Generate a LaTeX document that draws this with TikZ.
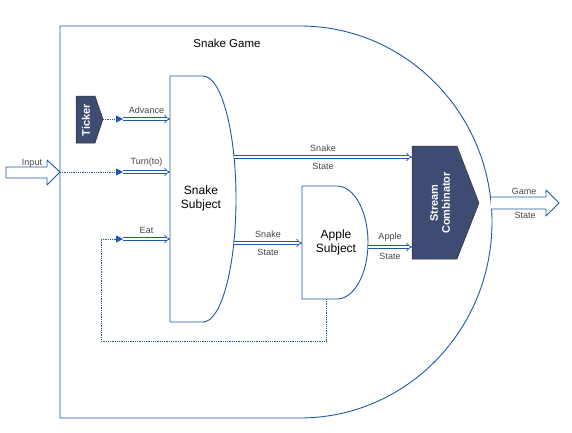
\documentclass[tikz,border=0pt]{standalone}
\usepackage{fontspec}
\setmainfont{Liberation Sans}
\usetikzlibrary{arrows.meta}

\definecolor{lineblue}{RGB}{30,88,168}
\definecolor{boxnavy}{RGB}{62,75,115}
\definecolor{labelgray}{RGB}{70,70,70}

\tikzset{
  shell/.style={draw=lineblue, line width=0.9pt, fill=white},
  darkbox/.style={draw=black!80, line width=0.5pt, fill=boxnavy},
  darktext/.style={text=white, font=\bfseries\fontsize{11}{12}\selectfont, rotate=90, align=center},
  subj/.style={font=\fontsize{12}{14}\selectfont, align=center},
  lbl/.style={text=labelgray, font=\fontsize{9}{10}\selectfont},
  flow/.style={lineblue, line width=0.75pt, double=white, double distance=2.2pt, -{Implies}},
  feed/.style={lineblue, densely dotted, line width=0.8pt, -{Triangle[length=7pt,width=7pt]}},
  bigarrow/.style={draw=lineblue, line width=0.9pt, fill=white}
}

\begin{document}
\begin{tikzpicture}[x=1pt,y=1pt,line join=round]
                \useasboundingbox (0,0) rectangle (572,432);
                % game boundary
                \draw[shell] (60,14)--(60,406)--(300,406) arc[start angle=90,end angle=-90,x radius=192,y radius=196]--cycle;
                \node[font=\fontsize{11.5}{13}\selectfont] (game) at (227,389) {Snake Game};
                % subjects
                \draw[shell] (170,110)--(170,356)--(203,356) arc[start angle=90,end angle=-90,x radius=33,y radius=123]--cycle;
                \node[subj] (snake) at (201,234) {Snake\\Subject};
                \draw[shell] (302,133)--(302,246)--(337,246) arc[start angle=90,end angle=-90,x radius=31,y radius=56.5]--cycle;
                \node[subj] (apple) at (336,190) {Apple\\Subject};
                % ticker and combinator
                \draw[darkbox] (76,289)--(76,336)--(95,336)--(103,313)--(95,289)--cycle;
                \node[darktext] (ticker) at (86,312) {Ticker};
                \draw[darkbox] (412,173)--(412,286)--(457,286)--(479,229)--(457,173)--cycle;
                \node[darktext] (comb) at (440,229) {Stream\\Combinator};
                % in and out
                \draw[bigarrow] (6,254)--(6,265)--(47,265)--(47,272)--(60,260)--(47,247)--(47,254)--cycle;
                \node[lbl] (input) at (32,269) {Input};
                \draw[bigarrow] (491,235)--(546,235)--(546,242)--(559,229)--(546,216)--(546,223)--(491,223);
                \node[lbl] (gameout) at (524,241) {Game};
                \node[lbl] (gamestate) at (525,217) {State};
                % end points
                \coordinate (tick) at (103,313);
                \coordinate (adv) at (123,313);
                \coordinate (advin) at (170,313);
                \coordinate (inp) at (60,260);
                \coordinate (turn) at (123,260);
                \coordinate (turnin) at (170,260);
                \coordinate (eat) at (123,193);
                \coordinate (eatin) at (170,193);
                \coordinate (applebot) at (326,133);
                \coordinate (s1) at (234,275);
                \coordinate (c1) at (412,275);
                \coordinate (s2) at (234,189);
                \coordinate (a1) at (302,189);
                \coordinate (a2) at (368,185);
                \coordinate (c2) at (412,185);
                % triggers
                \draw[feed] (tick)--(adv);
                \draw[flow] (adv)--(advin) node[lbl,midway,above=2pt] {Advance};
                \draw[feed] (inp)--(turn);
                \draw[flow] (turn)--(turnin) node[lbl,midway,above=2pt] {Turn(to)};
                \draw[feed] (applebot) |- (101,91) |- (eat);
                \draw[flow] (eat)--(eatin) node[lbl,midway,above=2pt] {Eat};
                % states
                \draw[flow] (s1)--(c1) node[lbl,midway,above=2pt] {Snake} node[lbl,midway,below=3pt] {State};
                \draw[flow] (s2)--(a1) node[lbl,midway,above=2pt] {Snake} node[lbl,midway,below=3pt] {State};
                \draw[flow] (a2)--(c2) node[lbl,midway,above=2pt] {Apple} node[lbl,midway,below=3pt] {State};
\end{tikzpicture}
\end{document}
